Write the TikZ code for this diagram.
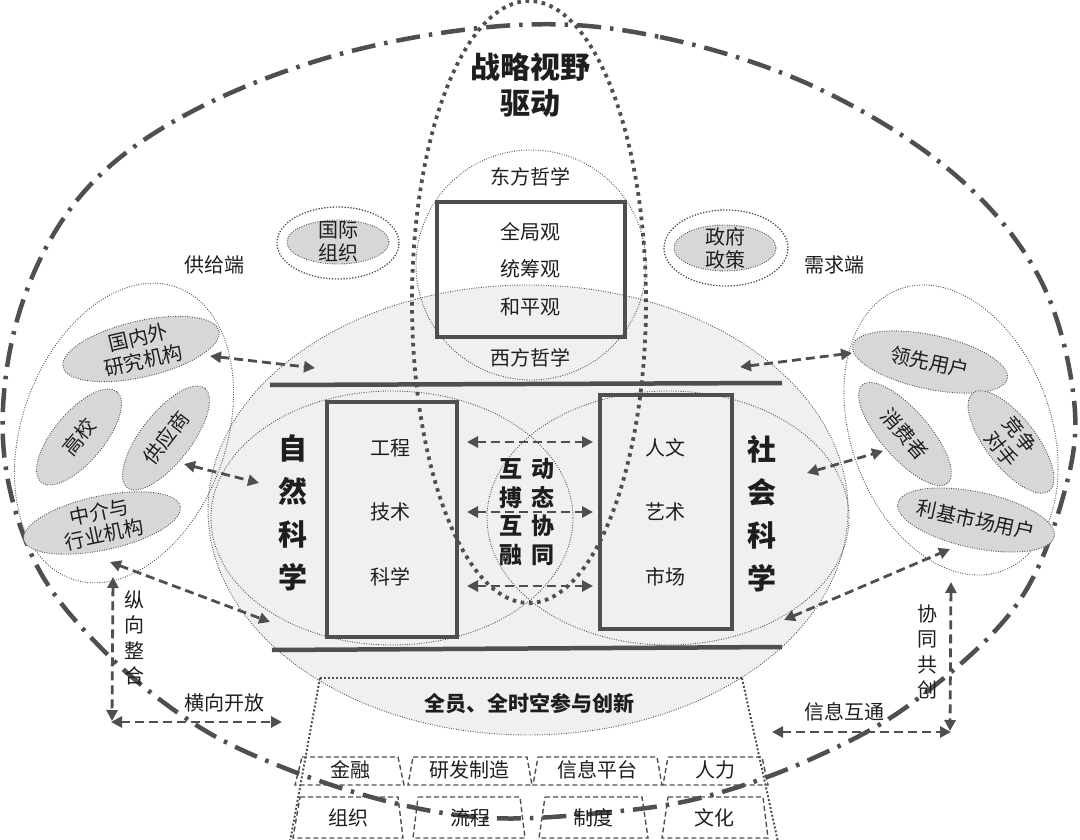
\documentclass[tikz,border=0pt]{standalone}
\usepackage{fontspec}
\setmainfont{Noto Sans CJK SC}
\usetikzlibrary{shapes.geometric,arrows.meta}
\definecolor{dk}{HTML}{4F4F4F}
\definecolor{lg}{HTML}{F0F0F0}
\definecolor{mg}{HTML}{D7D7D7}
\definecolor{tx}{HTML}{1E1E1E}
\begin{document}
\begin{tikzpicture}[x=1pt,y=-1pt,
  every node/.style={inner sep=0pt,text=tx},
  txt/.style={font=\fontsize{20}{23}\selectfont,align=center},
  vtxt/.style={font=\fontsize{20}{25.5}\selectfont,align=center},
  thindot/.style={draw=dk,line width=0.9pt,dash pattern=on 0.9pt off 1.5pt},
  middot/.style={draw=dk,line width=1.3pt,dash pattern=on 1.3pt off 1.6pt},
  gel/.style={ellipse,thindot,fill=mg},
  oel/.style={ellipse,thindot},
  bigdot/.style={draw=dk,line width=3.8pt,dash pattern=on 3.6pt off 4.6pt},
  dashdot/.style={draw=dk,line width=4.5pt,dash pattern=on 24pt off 9pt on 3.5pt off 9pt},
  arr/.style={draw=dk,line width=2.8pt,dash pattern=on 9pt off 5pt,
    {Triangle[length=11pt,width=11pt]}-{Triangle[length=11pt,width=11pt]}},
  bar/.style={draw=dk,line width=4.5pt},
  rectbox/.style={draw=dk,line width=4pt},
  bbox/.style={draw=dk,line width=1.4pt,dash pattern=on 5pt off 3pt},
  medot/.style={draw=dk,line width=2pt,dash pattern=on 2pt off 2pt}
]
\useasboundingbox (0,0) rectangle (1080,840);

% central light gray ellipse
\node[ellipse,thindot,fill=lg,minimum width=640,minimum height=450] (big) at (528,510) {};

% outer dash-dot contour
\draw[dashdot] plot[smooth cycle,tension=0.6] coordinates {
 (517,25) (660,37) (815,87) (953,173) (1039,277) (1074,400) (1063,497)
 (1015,607) (912,703) (809,760) (700,798) (600,813) (490,818) (390,802)
 (282,767) (193,723) (103,650) (34,560) (3,440) (21,307) (83,193)
 (189,113) (344,53)};

% circles
\node[oel,minimum width=362,minimum height=254] (nat) at (392,518) {};
\node[oel,minimum width=362,minimum height=254] (soc) at (668,518) {};
\node[oel,minimum width=230,minimum height=230] (phil) at (531,265) {};

% rectangles and bars
\node[rectbox,minimum width=188,minimum height=135] (rview) at (531,269.5) {};
\node[rectbox,minimum width=130,minimum height=235] (reng) at (392,519.5) {};
\node[rectbox,minimum width=132,minimum height=234] (rhum) at (666,512) {};
\coordinate (bt1) at (270,385); \coordinate (bt2) at (782,383);
\coordinate (bb1) at (272,650); \coordinate (bb2) at (782,647);
\draw[bar] (bt1) -- (bt2);
\draw[bar] (bb1) -- (bb2);

% texts in center
\node[font=\fontsize{30}{36}\selectfont\bfseries,align=center] (title) at (530,85) {战略视野\\驱动};
\node[txt] (teast) at (530,177) {东方哲学};
\node[txt] (tv1) at (530,232) {全局观};
\node[txt] (tv2) at (530,269) {统筹观};
\node[txt] (tv3) at (530,307) {和平观};
\node[txt] (twest) at (530,358) {西方哲学};
\node[txt] (te1) at (390,448) {工程};
\node[txt] (te2) at (390,512) {技术};
\node[txt] (te3) at (390,577) {科学};
\node[txt] (th1) at (665,448) {人文};
\node[txt] (th2) at (665,512) {艺术};
\node[txt] (th3) at (665,577) {市场};
\node[font=\fontsize{29}{43}\selectfont\bfseries,align=center] (tnat) at (293,513) {自\\然\\科\\学};
\node[font=\fontsize{29}{43}\selectfont\bfseries,align=center] (tsoc) at (762,514) {社\\会\\科\\学};
\node[font=\fontsize{23}{28.5}\selectfont\bfseries,align=center] (tmid) at (527,512)
  {互\hspace{9pt}动\\搏\hspace{9pt}态\\互\hspace{9pt}协\\融\hspace{9pt}同};

% central arrows
\coordinate (m1a) at (467,442); \coordinate (m1b) at (593,442);
\coordinate (m2a) at (467,512); \coordinate (m2b) at (593,512);
\coordinate (m3a) at (467,586); \coordinate (m3b) at (593,586);
\draw[arr] (m1a) -- (m1b);
\draw[arr] (m2a) -- (m2b);
\draw[arr] (m3a) -- (m3b);

% international org / government
\node[ellipse,middot,minimum width=122,minimum height=72] (gjo) at (338,243) {};
\node[gel,minimum width=102,minimum height=44] (gj) at (338,242) {};
\node[txt] (tgj) at (gj) {国际\\组织};
\node[ellipse,middot,minimum width=124,minimum height=76] (zfo) at (726,248) {};
\node[gel,minimum width=102,minimum height=46] (zf) at (725,248) {};
\node[txt] (tzf) at (zf) {政府\\政策};
\node[txt] (tsup) at (214,265) {供给端};
\node[txt] (tdem) at (834,265) {需求端};

% supply side
\node[oel,minimum width=204,minimum height=310,rotate=-20] (sup) at (124,433) {};
\node[gel,minimum width=160,minimum height=56,rotate=13] (yj) at (141,349) {};
\node[txt,rotate=13] (tyj) at (yj) {国内外\\研究机构};
\node[gel,minimum width=118,minimum height=50,rotate=50] (gx) at (79,437) {};
\node[txt,rotate=50] (tgx) at (gx) {高校};
\node[gel,minimum width=126,minimum height=50,rotate=52] (gy) at (166,438) {};
\node[txt,rotate=52] (tgy) at (gy) {供应商};
\node[gel,minimum width=160,minimum height=54,rotate=12] (zj) at (102,523) {};
\node[txt,rotate=12] (tzj) at (zj) {中介与\\行业机构};

% demand side
\node[oel,minimum width=200,minimum height=300,rotate=20] (dem) at (951,430) {};
\node[gel,minimum width=158,minimum height=54,rotate=-12] (lx) at (930,362) {};
\node[txt,rotate=-12] (tlx) at (lx) {领先用户};
\node[gel,minimum width=130,minimum height=48,rotate=-49] (xf) at (905,434) {};
\node[txt,rotate=-49] (txf) at (xf) {消费者};
\node[gel,minimum width=124,minimum height=50,rotate=-52] (jz) at (1011,442) {};
\node[txt,rotate=-52] (tjz) at (jz) {竞争\\对手};
\node[gel,minimum width=160,minimum height=56,rotate=-12] (lj) at (976,520) {};
\node[txt,rotate=-12] (tlj) at (lj) {利基市场用户};

% side arrows
\coordinate (a1a) at (210,356); \coordinate (a1b) at (315,368);
\coordinate (a2a) at (184,464); \coordinate (a2b) at (259,483);
\coordinate (a3a) at (110,562); \coordinate (a3b) at (270,622);
\coordinate (a4a) at (113,577); \coordinate (a4b) at (112,721);
\coordinate (a4c) at (111,722); \coordinate (a4d) at (282,722);
\coordinate (b1a) at (740,367); \coordinate (b1b) at (852,353);
\coordinate (b2a) at (807,473); \coordinate (b2b) at (883,451);
\coordinate (b3a) at (784,620); \coordinate (b3b) at (950,549);
\coordinate (b4a) at (951,582); \coordinate (b4b) at (950,731);
\coordinate (b4c) at (772,732); \coordinate (b4d) at (951,732);
\draw[arr] (a1a) -- (a1b);
\draw[arr] (a2a) -- (a2b);
\draw[arr] (a3a) -- (a3b);
\draw[arr] (a4a) -- (a4b);
\draw[arr] (a4c) -- (a4d);
\draw[arr] (b1a) -- (b1b);
\draw[arr] (b2a) -- (b2b);
\draw[arr] (b3a) -- (b3b);
\draw[arr] (b4a) -- (b4b);
\draw[arr] (b4c) -- (b4d);
\node[vtxt] (tzx) at (134,638) {纵\\向\\整\\合};
\node[txt] (thx) at (224,703) {横向开放};
\node[vtxt] (txt1) at (927,652) {协\\同\\共\\创};
\node[txt] (txx) at (844,712) {信息互通};

% tall strategic ellipse
\node[ellipse,bigdot,minimum width=234,minimum height=602] (zl) at (529,302) {};

% bottom
\coordinate (cl) at (320,678); \coordinate (cr) at (742,678);
\coordinate (cl2) at (290,842); \coordinate (cr2) at (778,842);
\draw[medot] (cl) -- (cr);
\draw[medot] (cl) -- (cl2);
\draw[medot] (cr) -- (cr2);
\node[font=\fontsize{21}{24}\selectfont\bfseries] (tall) at (529,703) {全员、全时空参与创新};

\draw[bbox] (302,757) -- (398,757) -- (404,785) -- (295,785) -- cycle;
\draw[bbox] (413,757) -- (527,757) -- (532,785) -- (408,785) -- cycle;
\draw[bbox] (538,757) -- (657,757) -- (662,785) -- (533,785) -- cycle;
\draw[bbox] (668,757) -- (762,757) -- (768,785) -- (663,785) -- cycle;
\draw[bbox] (300,797) -- (398,797) -- (403,838) -- (293,838) -- cycle;
\draw[bbox] (418,797) -- (520,797) -- (525,838) -- (413,838) -- cycle;
\draw[bbox] (545,797) -- (642,797) -- (648,838) -- (539,838) -- cycle;
\draw[bbox] (668,797) -- (763,797) -- (768,838) -- (662,838) -- cycle;
\node[txt] (r11) at (350,770) {金融};
\node[txt] (r12) at (469,770) {研发制造};
\node[txt] (r13) at (597,770) {信息平台};
\node[txt] (r14) at (715,770) {人力};
\node[txt] (r21) at (348,818) {组织};
\node[txt] (r22) at (470,818) {流程};
\node[txt] (r23) at (593,818) {制度};
\node[txt] (r24) at (714,818) {文化};
\end{tikzpicture}
\end{document}
